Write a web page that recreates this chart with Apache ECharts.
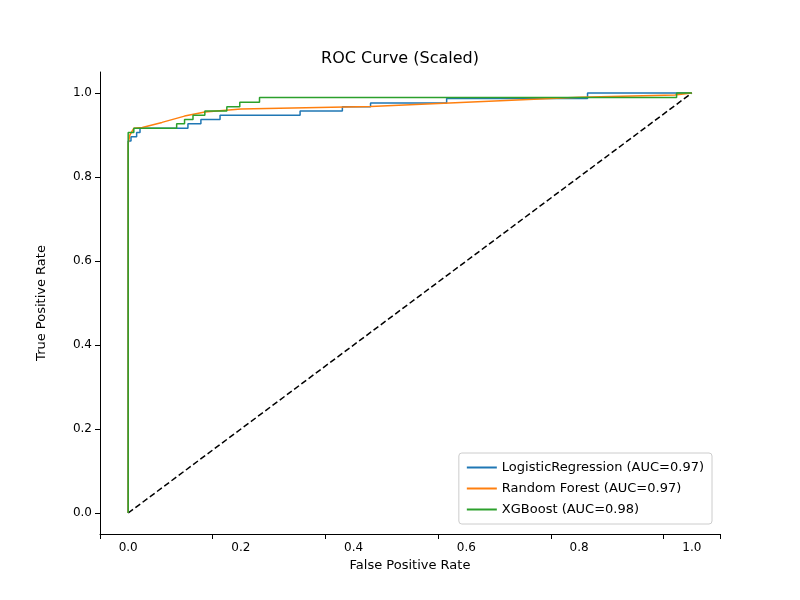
<!DOCTYPE html>
<html lang="en">
<head>
    <meta charset="UTF-8">
    <title>ROC Curve</title>
    <script src="https://cdn.jsdelivr.net/npm/echarts@6/dist/echarts.min.js"></script>
</head>
<body style="margin:0">
    <div id="chart" style="width:800px;height:600px;"></div>
</body>
</html>
<script>
    // ROC points [fpr, tpr]
    var lrRoc = [[0,0],[0,0.886],[0.005,0.886],[0.005,0.896],[0.015,0.896],[0.015,0.906],[0.021,0.906],[0.021,0.916],
        [0.106,0.916],[0.106,0.927],[0.129,0.927],[0.129,0.937],[0.163,0.937],[0.163,0.947],[0.305,0.947],[0.305,0.957],
        [0.38,0.957],[0.38,0.967],[0.43,0.967],[0.43,0.976],[0.565,0.976],[0.565,0.987],[0.815,0.987],[0.815,1.0],[1,1]];
    var rfRoc = [[0,0],[0,0.88],[0.003,0.9],[0.01,0.916],[0.025,0.918],[0.06,0.93],[0.1,0.945],[0.136,0.955],
        [0.2,0.962],[0.43,0.968],[0.6,0.978],[0.8,0.99],[0.97,0.995],[1,1]];
    var xgbRoc = [[0,0],[0,0.906],[0.01,0.906],[0.01,0.916],[0.086,0.916],[0.086,0.927],[0.1,0.927],[0.1,0.937],
        [0.115,0.937],[0.115,0.947],[0.136,0.947],[0.136,0.957],[0.175,0.957],[0.175,0.967],[0.198,0.967],[0.198,0.978],
        [0.233,0.978],[0.233,0.989],[0.973,0.989],[0.973,1.0],[1,1]];
    var chance = [[0,0],[1,1]];
    var names = ['LogisticRegression (AUC=0.97)', 'Random Forest (AUC=0.97)', 'XGBoost (AUC=0.98)'];
    var font = 'DejaVu Sans';

    var chart = echarts.init(document.getElementById('chart'));
    function roc(name, data, color) {
        return {name: name, type: 'line', data: data, showSymbol: false, symbol: 'none',
            lineStyle: {color: color, width: 1.5}, itemStyle: {color: color}, z: 3};
    }
    chart.setOption({
        animation: false,
        textStyle: {fontFamily: font},
        title: {text: 'ROC Curve (Scaled)', left: 'center', top: 46,
            textStyle: {fontFamily: font, fontSize: 16, fontWeight: 'normal', color: '#000'}},
        grid: {left: 100, right: 80, top: 72, bottom: 66},
        legend: {orient: 'vertical', right: 88, bottom: 76, itemWidth: 30, itemHeight: 2, itemGap: 8,
            padding: [8, 8], borderColor: '#ccc', borderWidth: 1, borderRadius: 3, backgroundColor: '#fff',
            icon: 'rect', data: names, textStyle: {fontFamily: font, fontSize: 13, color: '#000'}},
        xAxis: {type: 'value', min: -0.05, max: 1.05, interval: 0.2,
            name: 'False Positive Rate', nameLocation: 'middle', nameGap: 24,
            nameTextStyle: {fontFamily: font, fontSize: 13, color: '#000'},
            axisLine: {onZero: false, lineStyle: {color: '#000'}},
            axisTick: {lineStyle: {color: '#000'}},
            axisLabel: {color: '#000', fontSize: 12, customValues: [0, 0.2, 0.4, 0.6, 0.8, 1.0],
                formatter: function (v) { return v.toFixed(1); }},
            splitLine: {show: false}},
        yAxis: {type: 'value', min: -0.05, max: 1.05,
            name: 'True Positive Rate', nameLocation: 'middle', nameGap: 52,
            nameTextStyle: {fontFamily: font, fontSize: 13, color: '#000'},
            axisLine: {show: true, onZero: false, lineStyle: {color: '#000'}},
            axisTick: {show: true, lineStyle: {color: '#000'}, customValues: [0, 0.2, 0.4, 0.6, 0.8, 1.0]},
            axisLabel: {color: '#000', fontSize: 12, customValues: [0, 0.2, 0.4, 0.6, 0.8, 1.0],
                formatter: function (v) { return v.toFixed(1); }},
            splitLine: {show: false}},
        series: [
            roc(names[0], lrRoc, '#1f77b4'),
            roc(names[1], rfRoc, '#ff7f0e'),
            roc(names[2], xgbRoc, '#2ca02c'),
            {type: 'line', data: chance, symbol: 'none', z: 2,
                lineStyle: {color: '#000', type: [6, 3], width: 1.5}}
        ]
    });
</script>
